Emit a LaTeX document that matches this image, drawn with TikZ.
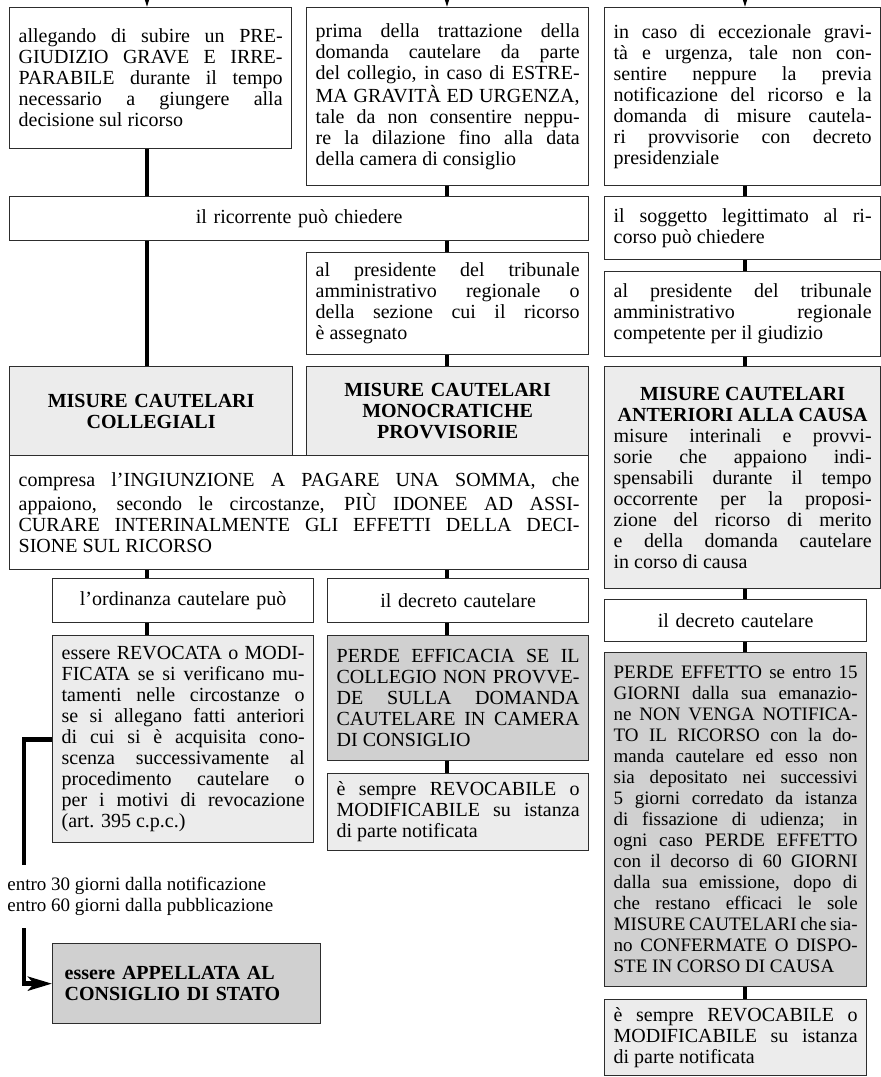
\documentclass[tikz,border=0pt]{standalone}
\usepackage{fontspec}
\setmainfont{Liberation Serif}
\usepackage{tikz}
\usetikzlibrary{arrows.meta}
\definecolor{grischiaro}{RGB}{236, 236, 236}
\definecolor{grisscuro}{RGB}{208, 208, 208}
\definecolor{bordo}{RGB}{45, 45, 45}
\newcommand{\testo}{\fontsize{10}{10.5}\selectfont\tolerance=10000\hyphenpenalty=10000}
\newcommand{\testopiccolo}{\fontsize{9.5}{10.5}\selectfont\tolerance=10000\hyphenpenalty=10000}

\tikzset{
    scatola/.style={draw=bordo, line width=0.65pt, anchor=north west, inner xsep=4pt, inner ysep=2pt, font=\testo, align=justify},
    bianca/.style={scatola, fill=white},
    chiara/.style={scatola, fill=grischiaro},
    scura/.style={scatola, fill=grisscuro},
    taglia/.style 2 args={minimum width=#1, minimum height=#2, text width=#1-9pt},
    legame/.style={line width=2.4pt},
    freccina/.style={line width=1pt, -{Triangle[length=7pt, width=4pt]}}
}

\begin{document}
\begin{tikzpicture}[x=0.5pt, y=-0.5pt]
    \useasboundingbox (0,0) rectangle (881,1077);
    % Colonne dei collegamenti
    \coordinate (c1) at (147,0);
    \coordinate (c2) at (447,0);
    \coordinate (c3) at (745,0);
    \coordinate (da1) at (147,-20);
    \coordinate (da2) at (447,-20);
    \coordinate (da3) at (745,-20);

    % Presupposti
    \node[bianca, taglia={141pt}{70.5pt}] (pre1) at (9,7) {allegando di subire un PRE-\linebreak GIUDIZIO GRAVE E IRRE-\linebreak PARABILE durante il tempo\linebreak necessario a giungere alla\linebreak decisione sul ricorso};
    \node[bianca, taglia={141pt}{89pt}] (pre2) at (306,7) {prima della trattazione della\linebreak domanda cautelare da parte\linebreak del collegio, in caso di ESTRE-\linebreak MA GRAVITÀ ED URGENZA,\linebreak tale da non consentire neppu-\linebreak re la dilazione fino alla data\linebreak della camera di consiglio};
    \node[bianca, taglia={138pt}{89pt}] (pre3) at (604,7) {in caso di eccezionale gravi-\linebreak tà e urgenza, tale non con-\linebreak sentire neppure la previa\linebreak notificazione del ricorso e la\linebreak domanda di misure cautela-\linebreak ri provvisorie con decreto\linebreak presidenziale};

    % Chi chiede e a chi
    \node[bianca, taglia={289.5pt}{22pt}, align=center] (ricorr) at (9,196) {il ricorrente può chiedere};
    \node[bianca, taglia={138pt}{31.5pt}] (sogg) at (604,196) {il soggetto legittimato al ri-\linebreak corso può chiedere};
    \node[bianca, taglia={141pt}{51pt}] (pres2) at (306,252) {al presidente del tribunale\linebreak amministrativo regionale o\linebreak della sezione cui il ricorso\linebreak è assegnato};
    \node[bianca, taglia={138pt}{42.5pt}] (pres3) at (604,271) {al presidente del tribunale\linebreak amministrativo regionale\linebreak competente per il giudizio};

    % Tipi di misure
    \node[chiara, taglia={141.5pt}{44.5pt}, align=center, font=\testo\bfseries] (coll) at (9,366) {MISURE CAUTELARI\\COLLEGIALI};
    \node[chiara, taglia={141pt}{44.5pt}, align=center, font=\testo\bfseries] (mono) at (306,366) {MISURE CAUTELARI\\MONOCRATICHE\\PROVVISORIE};
    \node[chiara, taglia={138pt}{111pt}] (ant) at (604,366) {{\centering\bfseries MISURE CAUTELARI\\ANTERIORI ALLA CAUSA\par}misure interinali e provvi-\linebreak sorie che appaiono indi-\linebreak spensabili durante il tempo\linebreak occorrente per la proposi-\linebreak zione del ricorso di merito\linebreak e della domanda cautelare\linebreak in corso di causa};
    \node[bianca, taglia={289.5pt}{57pt}] (compresa) at (9,455) {compresa l’INGIUNZIONE A PAGARE UNA SOMMA, che\linebreak appaiono, secondo le circostanze, PIÙ IDONEE AD ASSI-\linebreak CURARE INTERINALMENTE GLI EFFETTI DELLA DECI-\linebreak SIONE SUL RICORSO};

    % Provvedimenti
    \node[bianca, taglia={130.5pt}{22pt}, align=center] (ord) at (52,578) {l’ordinanza cautelare può};
    \node[bianca, taglia={130.5pt}{22pt}, align=center] (dec2) at (327,578) {il decreto cautelare};
    \node[bianca, taglia={131pt}{21pt}, align=center] (dec3) at (604,599) {il decreto cautelare};
    \node[chiara, taglia={130.5pt}{103.5pt}] (revoc) at (52,635) {essere REVOCATA o MODI-\linebreak FICATA se si verificano mu-\linebreak tamenti nelle circostanze o\linebreak se si allegano fatti anteriori\linebreak di cui si è acquisita cono-\linebreak scenza successivamente al\linebreak procedimento cautelare o\linebreak per i motivi di revocazione\linebreak (art. 395 c.p.c.)};
    \node[scura, taglia={130.5pt}{62.5pt}] (perde2) at (327,635) {PERDE EFFICACIA SE IL\linebreak COLLEGIO NON PROVVE-\linebreak DE SULLA DOMANDA\linebreak CAUTELARE IN CAMERA\linebreak DI CONSIGLIO};
    \node[chiara, taglia={130.5pt}{38.5pt}] (rev2) at (327,773) {è sempre REVOCABILE o\linebreak MODIFICABILE su istanza\linebreak di parte notificata};
    \node[scura, taglia={131pt}{167pt}, font=\testopiccolo] (perde3) at (604,652) {PERDE EFFETTO se entro 15\linebreak GIORNI dalla sua emanazio-\linebreak ne NON VENGA NOTIFICA-\linebreak TO IL RICORSO con la do-\linebreak manda cautelare ed esso non\linebreak sia depositato nei successivi\linebreak 5 giorni corredato da istanza\linebreak di fissazione di udienza; in\linebreak ogni caso PERDE EFFETTO\linebreak con il decorso di 60 GIORNI\linebreak dalla sua emissione, dopo di\linebreak che restano efficaci le sole\linebreak MISURE CAUTELARI che sia-\linebreak no CONFERMATE O DISPO-\linebreak STE IN CORSO DI CAUSA};
    \node[chiara, taglia={131pt}{38pt}] (rev3) at (604,999) {è sempre REVOCABILE o\linebreak MODIFICABILE su istanza\linebreak di parte notificata};

    % Appello
    \node[anchor=west, align=left, font=\testopiccolo, inner sep=0pt] (termini) at (7,896) {entro 30 giorni dalla notificazione\\entro 60 giorni dalla pubblicazione};
    \node[scura, taglia={131pt}{40pt}, align=left, font=\testo\bfseries, inner xsep=6pt] (appell) at (52,943) {essere APPELLATA AL\\CONSIGLIO DI STATO};

    % Collegamenti
    \draw[freccina] (da1) -- (pre1.north -| da1);
    \draw[freccina] (da2) -- (pre2.north -| da2);
    \draw[freccina] (da3) -- (pre3.north -| da3);
    \draw[legame] (pre1.south -| c1) -- (ricorr.north -| c1);
    \draw[legame] (pre2.south -| c2) -- (ricorr.north -| c2);
    \draw[legame] (pre3.south -| c3) -- (sogg.north -| c3);
    \draw[legame] (ricorr.south -| c1) -- (coll.north -| c1);
    \draw[legame] (ricorr.south -| c2) -- (pres2.north -| c2);
    \draw[legame] (pres2.south -| c2) -- (mono.north -| c2);
    \draw[legame] (sogg.south -| c3) -- (pres3.north -| c3);
    \draw[legame] (pres3.south -| c3) -- (ant.north -| c3);
    \draw[legame] (compresa.south -| c1) -- (ord.north -| c1);
    \draw[legame] (compresa.south -| c2) -- (dec2.north -| c2);
    \draw[legame] (ant.south -| c3) -- (dec3.north -| c3);
    \draw[legame] (ord.south -| c1) -- (revoc.north -| c1);
    \draw[legame] (dec2.south -| c2) -- (perde2.north -| c2);
    \draw[legame] (perde2.south -| c2) -- (rev2.north -| c2);
    \draw[legame] (dec3.south -| c3) -- (perde3.north -| c3);
    \draw[legame] (perde3.south -| c3) -- (rev3.north -| c3);
    \coordinate (giu1) at (24,865);
    \coordinate (giu2) at (24,928);
    \draw[legame] (revoc.west) -| (giu1);
    \draw[legame, -{Stealth[length=12pt, width=7pt, inset=3pt]}] (giu2) |- (appell.west);
\end{tikzpicture}
\end{document}
